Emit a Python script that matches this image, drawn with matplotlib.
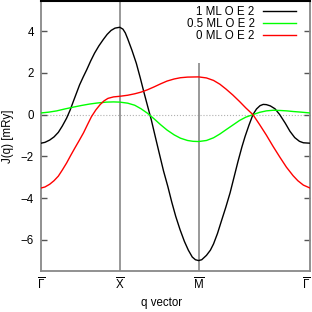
import numpy as np
import matplotlib
matplotlib.use("Agg")
import matplotlib.pyplot as plt

plt.rcParams['font.family'] = ['Liberation Sans', 'DejaVu Sans']
plt.rcParams['mathtext.fontset'] = 'custom'
plt.rcParams['mathtext.rm'] = 'Liberation Sans'

# high-symmetry points along the path G-X-M-G
k_labels = [r'$\overline{\Gamma}$', r'$\overline{\mathrm{X}}$', r'$\overline{\mathrm{M}}$', r'$\overline{\Gamma}$']
k_pos = [0.0, 1.0, 2.0, 2.0 + np.sqrt(2)]

# 1 ML O E 2 (black)
q_1ml = [0.0, 0.05, 0.11, 0.165, 0.22, 0.27, 0.325, 0.37, 0.41, 0.45, 0.49, 0.535,
         0.58, 0.63, 0.68, 0.735, 0.79, 0.84, 0.89, 0.94, 1.0,
         1.04, 1.07, 1.10, 1.155, 1.21, 1.26, 1.31, 1.355, 1.40, 1.45, 1.50, 1.555,
         1.61, 1.66, 1.71, 1.765, 1.82, 1.87, 1.92, 1.96, 2.0,
         2.04, 2.10, 2.15, 2.19, 2.24, 2.29, 2.345, 2.40, 2.45, 2.50, 2.55, 2.59,
         2.64, 2.69, 2.735, 2.78, 2.82, 2.86, 2.91, 2.97, 3.03, 3.10, 3.16, 3.22,
         3.28, 3.33, 3.414]
j_1ml = [-1.37, -1.33, -1.22, -1.07, -0.85, -0.55, -0.17, 0.22, 0.63, 1.03, 1.43, 1.80,
         2.15, 2.57, 2.95, 3.30, 3.60, 3.85, 4.04, 4.15, 4.19,
         4.10, 3.92, 3.64, 3.08, 2.46, 1.76, 1.02, 0.38, -0.25, -1.05, -1.84, -2.70,
         -3.45, -4.20, -4.88, -5.52, -6.08, -6.50, -6.83, -6.96, -7.00,
         -6.96, -6.75, -6.50, -6.20, -5.70, -5.10, -4.45, -3.75, -3.00, -2.25, -1.55, -1.05,
         -0.50, 0.0, 0.27, 0.43, 0.49, 0.48, 0.42, 0.28, 0.0, -0.41, -0.80, -1.10,
         -1.28, -1.35, -1.37]

# 0.5 ML O E 2 (green)
q_05ml = [0.0, 0.10, 0.20, 0.30, 0.41, 0.515, 0.62, 0.72, 0.83, 0.92, 1.0,
          1.10, 1.19, 1.27, 1.35, 1.435, 1.52, 1.60, 1.69, 1.77, 1.86, 1.93, 2.0,
          2.10, 2.19, 2.27, 2.35, 2.435, 2.52, 2.60, 2.69, 2.775, 2.86, 2.95, 3.03,
          3.12, 3.20, 3.30, 3.414]
j_05ml = [0.08, 0.12, 0.18, 0.27, 0.36, 0.44, 0.51, 0.56, 0.60, 0.61, 0.60,
          0.55, 0.45, 0.28, 0.07, -0.20, -0.49, -0.74, -0.97, -1.13, -1.24, -1.28, -1.29,
          -1.24, -1.11, -0.93, -0.72, -0.50, -0.28, -0.12, 0.0, 0.11, 0.18, 0.21, 0.20,
          0.18, 0.15, 0.12, 0.08]

# 0 ML O E 2 (red)
q_0ml = [0.0, 0.05, 0.11, 0.165, 0.22, 0.27, 0.325, 0.375, 0.43, 0.485, 0.54, 0.59,
         0.64, 0.695, 0.75, 0.80, 0.85, 0.92, 1.0,
         1.10, 1.19, 1.27, 1.35, 1.435, 1.52, 1.60, 1.69, 1.77, 1.86, 2.0,
         2.10, 2.19, 2.27, 2.35, 2.435, 2.52, 2.60, 2.69, 2.775, 2.86, 2.945, 3.03,
         3.115, 3.20, 3.26, 3.33, 3.414]
j_0ml = [-3.52, -3.47, -3.34, -3.17, -2.95, -2.66, -2.32, -1.97, -1.60, -1.24, -0.87, -0.48,
         -0.10, 0.22, 0.48, 0.66, 0.78, 0.85, 0.88,
         0.93, 1.0, 1.08, 1.19, 1.33, 1.48, 1.61, 1.71, 1.77, 1.80, 1.81,
         1.76, 1.64, 1.46, 1.22, 0.94, 0.63, 0.32, 0.0, -0.48, -0.98, -1.52, -2.03,
         -2.52, -2.93, -3.17, -3.38, -3.52]

series = [(q_1ml, j_1ml, 'black', '1 ML O E 2'),
          (q_05ml, j_05ml, '#00ff00', '0.5 ML O E 2'),
          (q_0ml, j_0ml, '#ff0000', '0 ML O E 2')]

ymin, ymax = -7.5, 5.45
fs = 8.3

fig = plt.figure(figsize=(3.12, 3.12), dpi=100)
ax = fig.add_axes([41/312, 1 - 271/312, 269/312, 270/312])

ax.axhline(0, color='#b0b0b0', ls=':', lw=0.8, zorder=1)
ax.vlines(k_pos[1], ymin, ymax, color='#888888', lw=1.2, zorder=1)
ax.vlines(k_pos[2], ymin, 2.5, color='#888888', lw=1.2, zorder=1)

for q, j, c, lab in series:
    ax.plot(q, j, color=c, lw=1.0, label=lab, zorder=3)

ax.set_xlim(k_pos[0], k_pos[-1])
ax.set_ylim(ymin, ymax)
ax.set_xticks(k_pos)
ax.set_xticklabels(k_labels)
ax.set_yticks([-6, -4, -2, 0, 2, 4])
ax.tick_params(axis='x', length=0, pad=4, labelsize=fs)
ax.tick_params(axis='y', direction='in', length=4, width=1, color='#555555',
               right=True, labelsize=fs, pad=5)
# last label sits right at the canvas edge
ax.get_xticklabels()[-1].set_horizontalalignment('right')

for s in ['left', 'bottom', 'right']:
    ax.spines[s].set_color('#888888')
    ax.spines[s].set_linewidth(1.3)
ax.spines['top'].set_color('black')
ax.spines['top'].set_linewidth(1.5)

ax.set_xlabel('q vector', fontsize=fs)
ax.xaxis.set_label_coords(0.45, -0.095)
ax.set_ylabel('J(q) [mRy]', fontsize=fs)
ax.yaxis.set_label_coords(-0.1, 0.5)

ax.legend(loc='upper right', bbox_to_anchor=(0.948, 0.982), markerfirst=False,
          frameon=False, fontsize=fs, handlelength=2.9, handletextpad=0.7,
          labelspacing=0.0, borderpad=0.0, borderaxespad=0.0)

fig.savefig('out.png', dpi=100)
